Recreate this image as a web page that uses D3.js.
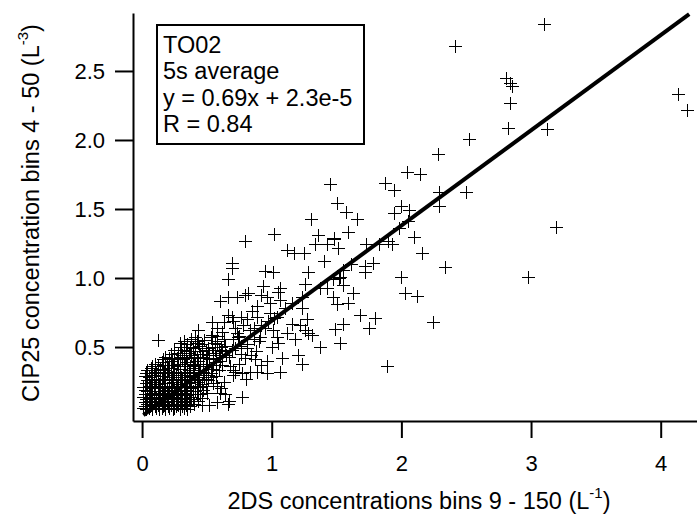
<!DOCTYPE html>
<html lang="en">
<head>
<meta charset="UTF-8">
<title>TO02 2DS vs CIP25</title>
<script src="https://d3js.org/d3.v7.min.js"></script>
<style>
  body{margin:0;background:#fff;}
  text{font-family:"Liberation Sans",Arial,sans-serif;fill:#000;}
  .axis path,.axis line{stroke:#000;stroke-width:2px;}
  .cross{fill:none;stroke:#000;stroke-width:1px;shape-rendering:crispEdges;}
  .fit{fill:none;stroke:#000;stroke-width:4px;}
</style>
</head>
<body>
<script>
var xTicks = [0, 1, 2, 3, 4];
var yTicks = [0.5, 1.0, 1.5, 2.0, 2.5];
var legendLines = ["TO02", "5s average", "y = 0.69x + 2.3e-5", "R = 0.84"];
var fitSlope = 0.69, fitIntercept = 2.3e-5, fitRange = [0.01, 4.22];

// lower-left, very dense part
var denseCluster = [
  [0.01,0.06],[0.03,0.05],[0.06,0.07],[0.08,0.05],[0.11,0.06],[0.13,0.05],[0.16,0.07],[0.18,0.05],[0.21,0.06],[0.24,0.05],[0.26,0.07],[0.29,0.05],[0.32,0.06],[0.35,0.05],[0.37,0.07],
  [0.02,0.10],[0.04,0.09],[0.07,0.11],[0.10,0.09],[0.12,0.10],[0.15,0.11],[0.18,0.09],[0.20,0.10],[0.23,0.12],[0.27,0.09],[0.30,0.11],[0.33,0.10],[0.36,0.12],[0.40,0.09],[0.43,0.11],
  [0.01,0.14],[0.05,0.13],[0.08,0.15],[0.11,0.14],[0.14,0.16],[0.17,0.13],[0.20,0.15],[0.24,0.14],[0.27,0.16],[0.31,0.13],[0.34,0.15],[0.38,0.14],[0.42,0.16],[0.46,0.13],
  [0.02,0.19],[0.04,0.18],[0.08,0.20],[0.12,0.18],[0.15,0.20],[0.19,0.19],[0.22,0.17],[0.25,0.20],[0.28,0.18],[0.32,0.21],[0.35,0.19],[0.39,0.18],[0.43,0.21],[0.47,0.19],[0.50,0.17],
  [0.03,0.24],[0.06,0.22],[0.09,0.25],[0.13,0.23],[0.17,0.24],[0.21,0.22],[0.24,0.25],[0.28,0.23],[0.31,0.26],[0.35,0.24],[0.38,0.22],[0.42,0.25],[0.46,0.23],[0.51,0.26],[0.55,0.24],
  [0.02,0.29],[0.05,0.28],[0.09,0.30],[0.12,0.27],[0.16,0.29],[0.19,0.31],[0.23,0.28],[0.26,0.30],[0.30,0.28],[0.33,0.31],[0.37,0.29],[0.41,0.27],[0.44,0.30],[0.48,0.28],[0.53,0.31],[0.57,0.29],
  [0.04,0.33],[0.07,0.35],[0.11,0.32],[0.14,0.34],[0.18,0.33],[0.22,0.35],[0.25,0.32],[0.29,0.34],[0.33,0.36],[0.36,0.33],[0.40,0.35],[0.44,0.33],[0.49,0.36],[0.54,0.34],[0.59,0.33],
  [0.10,0.38],[0.15,0.39],[0.19,0.37],[0.23,0.40],[0.27,0.38],[0.31,0.41],[0.35,0.39],[0.39,0.37],[0.43,0.40],[0.47,0.38],[0.52,0.41],[0.57,0.39],[0.62,0.37],
  [0.18,0.43],[0.22,0.45],[0.27,0.42],[0.31,0.44],[0.36,0.46],[0.40,0.43],[0.45,0.45],[0.50,0.42],[0.55,0.46],[0.60,0.44],
  [0.25,0.48],[0.30,0.50],[0.34,0.47],[0.39,0.49],[0.44,0.51],[0.49,0.48],[0.54,0.50],[0.59,0.48],[0.64,0.51],
  [0.32,0.54],[0.38,0.56],[0.43,0.53],[0.48,0.55],[0.53,0.57],[0.58,0.54],[0.63,0.56]
];

// second pass over the same dense area, offset between the rows above
var denseFill = [
  [0.02,0.07],[0.05,0.06],[0.07,0.08],[0.10,0.07],[0.12,0.08],[0.15,0.06],[0.17,0.08],[0.20,0.07],[0.22,0.08],[0.25,0.06],[0.28,0.08],[0.31,0.07],[0.34,0.08],
  [0.03,0.12],[0.06,0.11],[0.09,0.12],[0.11,0.11],[0.14,0.13],[0.16,0.12],[0.19,0.11],[0.22,0.13],[0.25,0.11],[0.29,0.12],[0.32,0.12],[0.35,0.11],[0.39,0.12],
  [0.02,0.16],[0.06,0.16],[0.09,0.17],[0.13,0.16],[0.16,0.17],[0.18,0.15],[0.21,0.18],[0.26,0.17],[0.29,0.15],[0.33,0.17],[0.37,0.16],[0.41,0.18],[0.45,0.16],
  [0.01,0.21],[0.05,0.21],[0.07,0.22],[0.10,0.21],[0.14,0.22],[0.18,0.21],[0.23,0.22],[0.27,0.21],[0.30,0.22],[0.34,0.21],[0.37,0.20],[0.41,0.22],[0.45,0.21],[0.49,0.22],
  [0.04,0.26],[0.08,0.27],[0.11,0.26],[0.15,0.26],[0.18,0.27],[0.22,0.26],[0.26,0.27],[0.29,0.26],[0.33,0.27],[0.36,0.26],[0.40,0.28],[0.44,0.26],[0.49,0.27],[0.53,0.28],
  [0.03,0.31],[0.07,0.31],[0.10,0.33],[0.14,0.31],[0.17,0.31],[0.21,0.32],[0.24,0.30],[0.28,0.31],[0.32,0.32],[0.35,0.30],[0.39,0.32],[0.43,0.31],[0.47,0.32],[0.51,0.30],
  [0.08,0.36],[0.12,0.36],[0.16,0.37],[0.20,0.35],[0.24,0.37],[0.28,0.36],[0.32,0.38],[0.37,0.36],[0.41,0.38],[0.45,0.36],[0.50,0.38],[0.55,0.37],[0.60,0.40],
  [0.16,0.41],[0.21,0.42],[0.25,0.41],[0.29,0.43],[0.34,0.42],[0.38,0.44],[0.42,0.42],[0.47,0.43],[0.52,0.44],[0.57,0.42],[0.62,0.43],
  [0.28,0.46],[0.32,0.48],[0.37,0.47],[0.41,0.49],[0.46,0.47],[0.51,0.49],[0.56,0.48],[0.61,0.50],[0.35,0.52],[0.46,0.52],[0.56,0.53]
];

// scattered points between 0.4 and 1.4
var midPoints = [
  [0.69,1.11],[0.69,1.07],[0.95,1.05],[1.01,1.04],[1.28,1.04],[0.66,0.99],[1.26,0.96],[1.06,0.93],[1.05,0.90],[0.93,0.94],
  [0.92,0.88],[0.79,0.88],[0.73,0.86],[0.66,0.86],[0.60,0.83],[0.96,0.86],[0.99,0.82],[1.06,0.84],[0.89,0.80],[1.23,0.86],
  [1.23,0.78],[1.37,0.93],[1.43,0.93],[0.82,0.89],[0.66,0.73],[0.69,0.72],[0.76,0.72],[0.81,0.70],[0.89,0.72],[0.99,0.75],
  [1.04,0.72],[0.54,0.68],[0.58,0.64],[0.62,0.61],[0.72,0.64],[0.73,0.60],[0.86,0.64],[0.95,0.64],[1.01,0.62],[1.16,0.67],
  [1.22,0.66],[1.27,0.70],[1.26,0.62],[1.28,0.60],[0.43,0.62],[0.41,0.57],[0.54,0.59],[0.91,0.57],[1.04,0.57],[0.12,0.55],
  [0.29,0.53],[1.31,0.59],[1.37,0.50],[1.23,0.38],[1.06,0.32],[0.96,0.31],[0.89,0.32],[0.83,0.32],[0.77,0.14],[0.66,0.09],
  [0.58,0.10],[0.52,0.08],[0.46,0.08],[0.60,0.17],[0.58,0.22],[0.70,0.30],[0.68,0.36],[0.55,0.41],[0.45,0.43],[0.37,0.50],
  [0.42,0.54],[0.58,0.52],[0.74,0.57],[0.90,0.54],[1.00,0.50],[1.05,0.53],[0.87,0.41],[0.92,0.37],[0.72,0.32],[0.77,0.31],
  [0.80,0.27],[0.67,0.11],[0.64,0.16],[0.61,0.20],[0.63,0.25],[0.70,0.33],[0.75,0.38],[0.79,0.42],[0.84,0.44],[0.81,0.49],
  [0.76,0.51],[0.69,0.48],[0.65,0.44],[0.62,0.47],[0.67,0.43],[0.72,0.49],[0.76,0.45],[0.81,0.52],[0.86,0.56],[0.70,0.56],
  [0.75,0.58],[0.83,0.62],[0.92,0.66],[0.97,0.69],[1.02,0.71],[0.88,0.47],[1.12,0.60],[1.18,0.56],[1.20,0.44],[1.08,0.42],
  [0.96,0.40],[1.10,0.78],[1.16,0.82],[0.85,0.76],[0.63,0.68],[0.70,0.69],[0.78,0.66],[0.58,0.58]
];

// upper scatter, x 1.3 to 2.4
var upperPoints = [
  [2.04,1.77],[2.14,1.75],[1.87,1.69],[1.94,1.64],[2.29,1.62],[2.29,1.52],[2.00,1.52],[1.94,1.47],[2.06,1.49],[2.05,1.41],
  [1.98,1.36],[2.10,1.30],[2.16,1.18],[1.73,1.25],[1.83,1.25],[1.90,1.27],[1.93,1.25],[1.66,1.43],[1.45,1.68],[1.50,1.54],
  [1.57,1.48],[1.59,1.33],[1.48,1.28],[1.51,1.22],[1.30,1.43],[0.79,1.27],[1.02,1.32],[1.36,1.31],[1.33,1.25],[1.43,1.25],
  [1.12,1.20],[1.17,1.18],[1.25,1.18],[1.40,1.12],[1.72,1.09],[1.78,1.11],[1.72,1.04],[2.34,1.08],[2.00,1.01],[1.55,1.06],
  [1.53,1.01],[1.47,0.99],[1.55,0.95],[2.03,0.89],[2.12,0.87],[1.63,0.89],[1.47,0.86],[1.50,0.81],[1.59,0.82],[1.68,0.73],
  [1.80,0.71],[1.55,0.67],[1.75,0.64],[1.49,0.63],[2.24,0.68],[1.53,0.53],[1.89,0.36],[1.48,1.29],[1.52,1.00],[1.61,1.10]
];

// isolated points far from the cloud
var outliers = [
  [3.10,2.84],[2.41,2.68],[2.81,2.45],[2.84,2.41],[2.85,2.39],[2.84,2.27],[2.82,2.09],[3.12,2.08],
  [2.52,2.01],[4.13,2.33],[4.20,2.22],[2.50,1.62],[3.19,1.37],[2.98,1.01],[2.28,1.90]
];

var margin = {top: 13, right: 0, bottom: 93, left: 133},
    width = 697 - margin.left - margin.right,
    height = 514 - margin.top - margin.bottom;

var svg = d3.select("body").append("svg")
    .attr("width", 697)
    .attr("height", 514);
var g = svg.append("g")
    .attr("transform", "translate(" + margin.left + "," + margin.top + ")");

var x = d3.scaleLinear().domain([-0.07, 4.28]).range([0, width]);
var y = d3.scaleLinear().domain([-0.036, 2.92]).range([height, 0]);

// fit line goes under the markers
var fitLine = d3.line().x(function(d){ return x(d); }).y(function(d){ return y(fitSlope * d + fitIntercept); });
g.append("path").datum(fitRange).attr("class", "fit").attr("d", fitLine);

var allPoints = denseCluster.concat(denseFill, midPoints, upperPoints, outliers);

g.selectAll(".cross")
  .data(allPoints)
  .enter().append("path")
  .attr("class", "cross")
  .attr("transform", function(d){ return "translate(" + Math.round(x(d[0])) + "," + Math.round(y(d[1])) + ")"; })
  .attr("d", "M-6,0.5H7M0.5,-6V7");

g.append("g")
  .attr("class", "axis")
  .attr("transform", "translate(0," + height + ")")
  .call(d3.axisBottom(x).tickValues(xTicks).tickSize(17).tickSizeOuter(0).tickPadding(17).tickFormat(d3.format("d")))
  .call(function(a){ a.selectAll("text").attr("font-size", 22).attr("font-family", null); });

g.append("g")
  .attr("class", "axis")
  .call(d3.axisLeft(y).tickValues(yTicks).tickSize(18).tickSizeOuter(0).tickPadding(10).tickFormat(d3.format(".1f")))
  .call(function(a){ a.selectAll("text").attr("font-size", 22).attr("font-family", null); });

// legend box
var leg = svg.append("g").attr("transform", "translate(157,25)");
leg.append("rect").attr("width", 207).attr("height", 119)
  .attr("fill", "#fff").attr("stroke", "#000").attr("stroke-width", 2);
leg.selectAll("text").data(legendLines).enter().append("text")
  .attr("x", 6).attr("y", function(d, i){ return 28 + i * 26.4; })
  .attr("font-size", 23.5)
  .text(function(d){ return d; });

// axis titles
var xt = svg.append("text").attr("x", 419).attr("y", 509).attr("text-anchor", "middle").attr("font-size", 23.5);
xt.append("tspan").text("2DS concentrations bins 9 - 150 (L");
xt.append("tspan").attr("font-size", 15).attr("dy", -11).text("-1");
xt.append("tspan").attr("dy", 11).text(")");

var yt = svg.append("text").attr("transform", "translate(39,213) rotate(-90)").attr("text-anchor", "middle").attr("font-size", 23.5);
yt.append("tspan").text("CIP25 concentration bins 4 - 50 (L");
yt.append("tspan").attr("font-size", 15).attr("dy", -11).text("-3");
yt.append("tspan").attr("dy", 11).text(")");
</script>
</body>
</html>
